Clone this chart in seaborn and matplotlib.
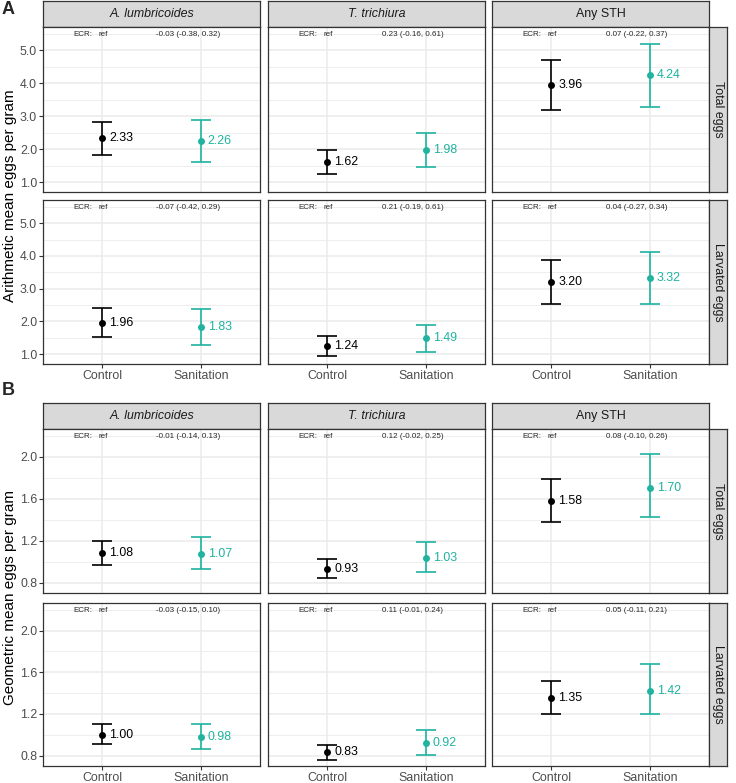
import matplotlib
matplotlib.use("Agg")
import matplotlib.pyplot as plt
import matplotlib.transforms as mtransforms
from matplotlib.ticker import MultipleLocator, FormatStrFormatter
import pandas as pd
import seaborn as sns

# categories
groups = ["Control", "Sanitation"]
species = ["A. lumbricoides", "T. trichiura", "Any STH"]
egg_types = ["Total eggs", "Larvated eggs"]

# panel A - arithmetic means (order: species x group)
am_total_mean = [2.33, 2.26, 1.62, 1.98, 3.96, 4.24]
am_total_lo = [1.83, 1.60, 1.25, 1.47, 3.20, 3.27]
am_total_hi = [2.82, 2.90, 1.99, 2.49, 4.70, 5.20]
am_larv_mean = [1.96, 1.83, 1.24, 1.49, 3.20, 3.32]
am_larv_lo = [1.52, 1.28, 0.93, 1.08, 2.53, 2.52]
am_larv_hi = [2.42, 2.39, 1.56, 1.89, 3.87, 4.12]
am_total_ecr = ["-0.03 (-0.38, 0.32)", "0.23 (-0.16, 0.61)", "0.07 (-0.22, 0.37)"]
am_larv_ecr = ["-0.07 (-0.42, 0.29)", "0.21 (-0.19, 0.61)", "0.04 (-0.27, 0.34)"]

# panel B - geometric means
gm_total_mean = [1.08, 1.07, 0.93, 1.03, 1.58, 1.70]
gm_total_lo = [0.97, 0.93, 0.84, 0.90, 1.38, 1.43]
gm_total_hi = [1.20, 1.23, 1.02, 1.19, 1.79, 2.03]
gm_larv_mean = [1.00, 0.98, 0.83, 0.92, 1.35, 1.42]
gm_larv_lo = [0.91, 0.86, 0.76, 0.81, 1.20, 1.20]
gm_larv_hi = [1.10, 1.10, 0.90, 1.045, 1.52, 1.68]
gm_total_ecr = ["-0.01 (-0.14, 0.13)", "0.12 (-0.02, 0.25)", "0.08 (-0.10, 0.26)"]
gm_larv_ecr = ["-0.03 (-0.15, 0.10)", "0.11 (-0.01, 0.24)", "0.05 (-0.11, 0.21)"]

palette = {"Control": "black", "Sanitation": "#1FB3A0"}


def make_frame(means, lows, highs, egg):
    rows = []
    for i, sp in enumerate(species):
        for j, g in enumerate(groups):
            k = 2 * i + j
            rows.append({"species": sp, "group": g, "egg": egg,
                         "mean": means[k], "lo": lows[k], "hi": highs[k]})
    return pd.DataFrame(rows)


df_a = pd.concat([make_frame(am_total_mean, am_total_lo, am_total_hi, "Total eggs"),
                  make_frame(am_larv_mean, am_larv_lo, am_larv_hi, "Larvated eggs")])
df_b = pd.concat([make_frame(gm_total_mean, gm_total_lo, gm_total_hi, "Total eggs"),
                  make_frame(gm_larv_mean, gm_larv_lo, gm_larv_hi, "Larvated eggs")])

sns.set_style("white")
plt.rcParams["font.family"] = ["Liberation Sans", "DejaVu Sans"]

W, H = 736, 783
fig = plt.figure(figsize=(W / 100, H / 100), dpi=100)

col_x = [43, 268, 492]
col_w = 217
border = "#333333"


def px_axes(x0, y0, x1, y1):
    return fig.add_axes([x0 / W, 1 - y1 / H, (x1 - x0) / W, (y1 - y0) / H])


def strip(x0, y0, x1, y1, label, rotation=0, italic=False):
    s = px_axes(x0, y0, x1, y1)
    s.set_facecolor("#D9D9D9")
    s.set_xticks([])
    s.set_yticks([])
    for sp in s.spines.values():
        sp.set_color(border)
        sp.set_linewidth(0.9)
    s.text(0.5, 0.5, label, transform=s.transAxes, ha="center", va="center",
           fontsize=8.9, color="#1A1A1A", rotation=rotation,
           style="italic" if italic else "normal")


def draw_panel(ax, sub, ylim, major, minor, ecr, show_x, show_y):
    sns.stripplot(data=sub, x="group", y="mean", order=groups, hue="group",
                  hue_order=groups, palette=palette, jitter=False, size=5.0,
                  linewidth=0, legend=False, ax=ax, zorder=4)
    for _, r in sub.iterrows():
        x = groups.index(r["group"])
        c = palette[r["group"]]
        ax.vlines(x, r["lo"], r["hi"], color=c, lw=1.2, zorder=3)
        ax.hlines([r["lo"], r["hi"]], x - 0.1, x + 0.1, color=c, lw=1.2, zorder=3)
        ax.text(x + 0.07, r["mean"], f"{r['mean']:.2f}", color=c, fontsize=8.9,
                va="center", ha="left", zorder=5)
    trans = mtransforms.blended_transform_factory(ax.transData, ax.transAxes)
    ax.text(-0.2, 0.953, "ECR:", transform=trans, fontsize=5.8, ha="center", va="center")
    ax.text(0.01, 0.953, "ref", transform=trans, fontsize=5.8, ha="center", va="center")
    ax.text(0.87, 0.953, ecr, transform=trans, fontsize=5.8, ha="center", va="center")

    ax.set_xlim(-0.6, 1.6)
    ax.set_ylim(*ylim)
    ax.yaxis.set_major_locator(MultipleLocator(major))
    ax.yaxis.set_minor_locator(MultipleLocator(minor))
    ax.yaxis.set_major_formatter(FormatStrFormatter("%.1f"))
    ax.set_axisbelow(True)
    ax.grid(which="major", color="#EBEBEB", lw=1.1)
    ax.grid(which="minor", axis="y", color="#EBEBEB", lw=0.6)
    ax.set_xlabel("")
    ax.set_ylabel("")
    for sp in ax.spines.values():
        sp.set_visible(True)
        sp.set_color(border)
        sp.set_linewidth(0.9)
    ax.tick_params(which="minor", length=0)
    ax.tick_params(axis="both", which="major", length=2.8, width=0.8, color=border,
                   labelsize=8.9, labelcolor="#4D4D4D", pad=1.5)
    ax.tick_params(axis="x", bottom=show_x, labelbottom=show_x)
    ax.tick_params(axis="y", left=show_y, labelleft=show_y)


def draw_block(df, rows_px, strip_px, ylim, major, minor, ecr_lists, ylabel, letter, letter_y):
    for i, sp in enumerate(species):
        strip(col_x[i], strip_px[0], col_x[i] + col_w, strip_px[1], sp,
              italic=(sp != "Any STH"))
    for r, egg in enumerate(egg_types):
        y0, y1 = rows_px[r]
        for i, sp in enumerate(species):
            ax = px_axes(col_x[i], y0, col_x[i] + col_w, y1)
            sub = df[(df["species"] == sp) & (df["egg"] == egg)]
            draw_panel(ax, sub, ylim, major, minor, ecr_lists[r][i],
                       show_x=(r == 1), show_y=(i == 0))
        strip(col_x[2] + col_w, y0, 727, y1, egg, rotation=-90)
    yc = (rows_px[0][0] + rows_px[1][1]) / 2
    fig.text(10 / W, 1 - yc / H, ylabel, rotation=90, ha="center", va="center",
             fontsize=11, color="black")
    fig.text(2 / W, 1 - letter_y / H, letter, fontsize=13, fontweight="bold",
             ha="left", va="top")


draw_block(df_a, [(27, 192), (200, 364)], (1, 27), (0.70, 5.71), 1.0, 0.5,
           [am_total_ecr, am_larv_ecr], "Arithmetic mean eggs per gram", "A", 1)
draw_block(df_b, [(429, 593), (603, 766)], (403, 429), (0.70, 2.265), 0.4, 0.2,
           [gm_total_ecr, gm_larv_ecr], "Geometric mean eggs per gram", "B", 382)

fig.savefig("out.png", dpi=100)
